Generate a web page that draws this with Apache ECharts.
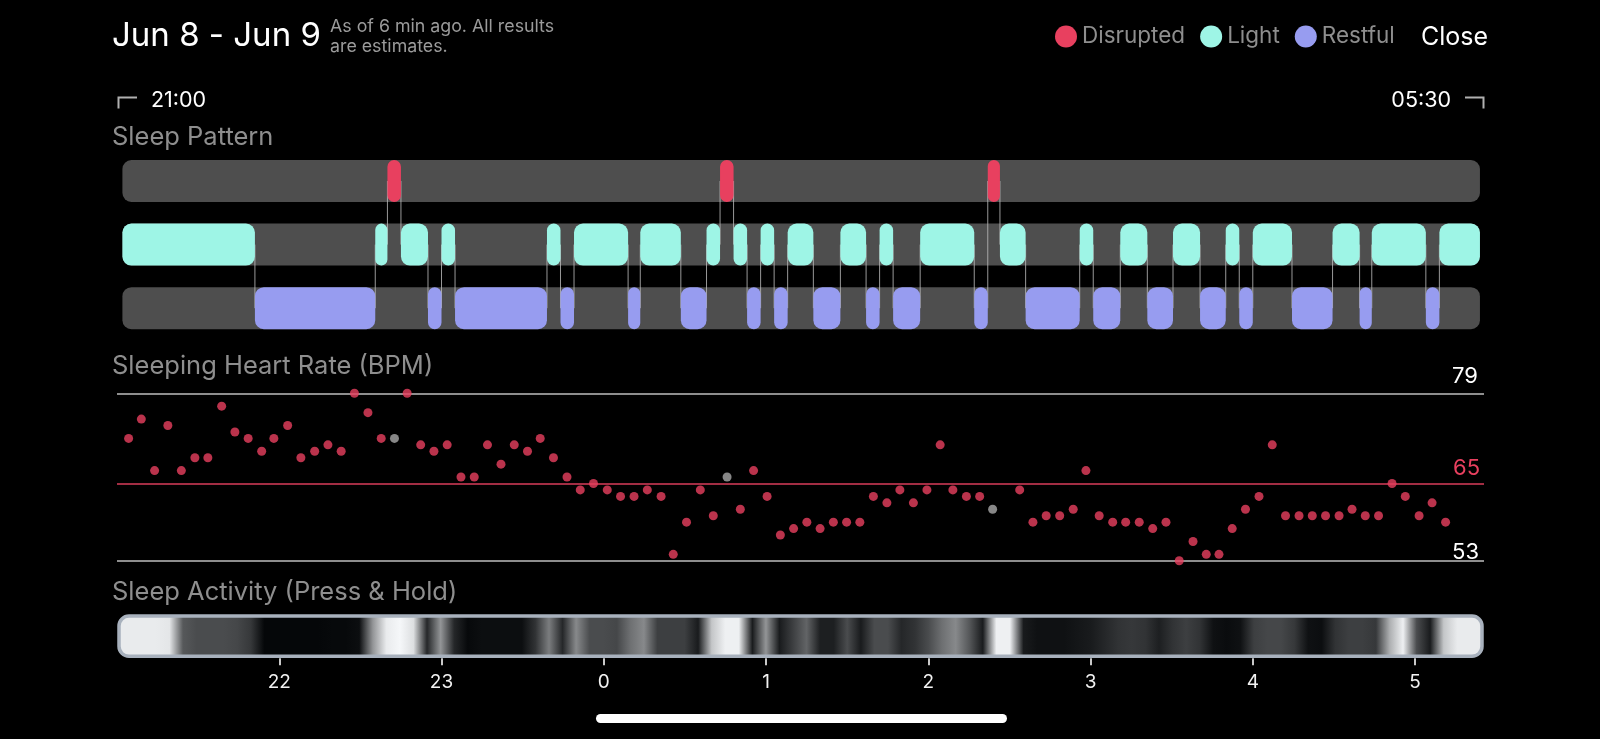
<!DOCTYPE html>
<html>
<head>
<meta charset="utf-8">
<script src="https://cdn.jsdelivr.net/npm/echarts@6/dist/echarts.min.js"></script>
<style>
html,body{margin:0;padding:0;background:#000;}
#chart{width:1600px;height:739px;}
</style>
</head>
<body>
<div id="chart"></div>
<script>
// ================= DATA (minutes after 21:00) =================
const stageNames = ['Disrupted', 'Light', 'Restful'];
const stageColors = ['#e8405f', '#9ef5e6', '#979cf0'];

const disrupted = [[100,105],[223,228],[322,326.5]];
const light = [[2,51],[95.5,100],[105,115],[120,125],[159,164],[169,189],[193.5,208.5],[218,223],[228,233],[238,243],[248,257.5],[267.5,277],[282,287],[297,317],[326.5,336],[356,361],[371,381],[390.5,400.5],[410,415],[420,434.5],[449.5,459.5],[464,484],[489,504]];
const restful = [[51,95.5],[115,120],[125,159],[164,169],[189,193.5],[208.5,218],[233,238],[243,248],[257.5,267.5],[277,282],[287,297],[317,322],[336,356],[361,371],[381,390.5],[400.5,410],[415,420],[434.5,449.5],[459.5,464],[484,489]];

const hrTime = [4.3,9.0,13.9,18.8,23.8,28.8,33.6,38.7,43.6,48.5,53.5,58.0,63.1,68.0,73.1,78.0,82.9,87.8,92.8,97.7,107.3,112.3,117.2,122.1,127.2,132.1,137.0,142.0,146.9,151.8,156.5,161.4,166.4,171.3,176.2,181.3,186.2,191.2,196.1,201.2,205.7,210.6,215.7,220.5,230.5,235.4,240.4,245.3,250.2,255.1,260.0,264.9,269.8,274.7,279.7,284.7,289.5,294.5,299.5,304.4,309.1,314.1,319.0,333.8,338.7,343.6,348.6,353.6,358.3,363.2,368.2,373.0,378.0,383.0,387.9,392.8,397.9,402.8,407.5,412.4,417.3,422.3,427.2,432.1,437.1,442.0,446.9,451.9,456.7,461.6,466.5,471.5,476.4,481.5,486.3,491.3];
const hrBpm = [72,75,67,74,67,69,69,77,73,72,70,72,74,69,70,71,70,79,76,72,79,71,70,71,66,66,71,68,71,70,72,69,66,64,65,64,63,63,64,63,54,59,64,60,61,67,63,57,58,59,58,59,59,59,63,62,64,62,64,71,64,63,63,64,59,60,60,61,67,60,59,59,59,58,59,53,56,54,54,58,61,63,71,60,60,60,60,60,61,60,60,65,63,60,62,59];
const hrGrayTime = [102.6, 225.6, 323.8];
const hrGrayBpm = [72, 66, 61];
const hrRefLines = [79, 65, 53];

// activity level per 5-minute epoch, starting 21:00
const activityStartMin = 0;
const activityStepMin = 5;
const activityLevel = [0.95,0.95,0.95,0.95,0.93,0.35,0.3,0.3,0.3,0.28,
  0.22,0.02,0.02,0.02,0.02,0.02,0.03,0.03,0.05,0.6,
  0.95,1.0,0.9,0.15,0.6,0.15,0.03,0.05,0.05,0.05,
  0.05,0.2,0.5,0.15,0.55,0.3,0.3,0.28,0.45,0.55,
  0.25,0.25,0.25,0.1,0.8,0.97,0.97,0.1,0.6,0.1,
  0.25,0.4,0.12,0.12,0.3,0.1,0.3,0.3,0.15,0.2,
  0.3,0.45,0.55,0.35,0.1,0.97,0.97,0.1,0.06,0.06,
  0.06,0.08,0.1,0.15,0.2,0.22,0.2,0.12,0.2,0.25,
  0.2,0.06,0.04,0.06,0.25,0.28,0.28,0.22,0.06,0.05,
  0.2,0.25,0.25,0.22,0.7,0.97,0.3,0.1,0.8,0.95,0.95,0.95];

const axisStartMin = 0;
const axisEndMin = 505.5;
const hourTicks = [22, 23, 0, 1, 2, 3, 4, 5];
const startLabel = '21:00';
const endLabel = '05:30';

// ================= DERIVED =================
const tickMin = hourTicks.map(h => ((h - 21 + 24) % 24) * 60);
const segs = [];
[disrupted, light, restful].forEach((arr, row) => arr.forEach(s => segs.push({ s: s[0], e: s[1], row })));
segs.sort((a, b) => a.s - b.s);
const transitions = [];
for (let i = 1; i < segs.length; i++) {
  if (Math.abs(segs[i].s - segs[i - 1].e) < 0.01) transitions.push([segs[i].s, segs[i - 1].row, segs[i].row]);
}
const patStart = Math.min(...segs.map(s => s.s));
const patEnd = Math.max(...segs.map(s => s.e));

const FONT = 'Inter, "Noto Sans", sans-serif';
const chart = echarts.init(document.getElementById('chart'), null, { width: 1600, height: 739 });

function rowRect(api, a, b, row) {
  const p1 = api.coord([a, row]);
  const p2 = api.coord([b, row]);
  const h = api.size([0, 1])[1] * 0.66;
  const w = p2[0] - p1[0];
  return { x: p1[0], y: p1[1] - h / 2, width: w, height: h, r: Math.min(9, w / 2) };
}

function segSeries(idx, data) {
  return {
    name: stageNames[idx], type: 'custom', xAxisIndex: 0, yAxisIndex: 0, z: 3,
    itemStyle: { color: stageColors[idx] },
    encode: { x: [0, 1], y: 2 },
    data: data.map(s => [s[0], s[1], idx]),
    renderItem: (params, api) => ({
      type: 'rect',
      shape: rowRect(api, api.value(0), api.value(1), idx),
      style: { fill: stageColors[idx] }
    })
  };
}

const refLabelDist = [6, 4, 5];
const refLabelLineHeight = [22, 22, 6];

const option = {
  backgroundColor: '#000',
  animation: false,
  legend: {
    data: stageNames, left: 1055, top: 25, icon: 'circle', itemWidth: 22, itemHeight: 22, itemGap: 15,
    padding: 0, selectedMode: false,
    textStyle: { color: '#8e8e8e', fontSize: 22.5, fontFamily: FONT }
  },
  grid: [
    { left: 117, right: 116, top: 149.2, height: 190.8 },
    { left: 117, right: 116, top: 393.3, height: 167.5 },
    { left: 117, right: 116, top: 614, height: 44.3 }
  ],
  xAxis: [
    { gridIndex: 0, type: 'value', min: axisStartMin, max: axisEndMin, show: false },
    { gridIndex: 1, type: 'value', min: axisStartMin, max: axisEndMin, show: false },
    { gridIndex: 2, type: 'value', min: axisStartMin, max: axisEndMin,
      axisLine: { show: false }, splitLine: { show: false },
      axisTick: { show: true, customValues: tickMin, length: 7, lineStyle: { color: '#c9c9c9', width: 2 } },
      axisLabel: { show: true, customValues: tickMin, margin: 14, color: '#f2f2f2', fontSize: 19, fontFamily: FONT,
        formatter: v => { const i = tickMin.indexOf(v); return i >= 0 ? String(hourTicks[i]) : ''; } } }
  ],
  yAxis: [
    { gridIndex: 0, type: 'category', data: stageNames, inverse: true, show: false },
    { gridIndex: 1, type: 'value', min: Math.min(...hrRefLines), max: Math.max(...hrRefLines), show: false },
    { gridIndex: 2, type: 'value', min: 0, max: 1, show: false }
  ],
  series: [
    { type: 'custom', xAxisIndex: 0, yAxisIndex: 0, z: 1, silent: true,
      encode: { x: [0, 1], y: 2 },
      data: [0, 1, 2].map(r => [patStart, patEnd, r]),
      renderItem: (params, api) => ({ type: 'rect', shape: Object.assign(rowRect(api, api.value(0), api.value(1), api.value(2)), { r: 9 }), style: { fill: '#4e4e4e' } })
    },
    { type: 'custom', xAxisIndex: 0, yAxisIndex: 0, z: 2, silent: true,
      encode: { x: 0, y: 1 },
      data: transitions,
      renderItem: (params, api) => {
        const t = api.value(0);
        const p1 = api.coord([t, api.value(1)]);
        const p2 = api.coord([t, api.value(2)]);
        return { type: 'line', shape: { x1: p1[0], y1: p1[1], x2: p2[0], y2: p2[1] }, style: { stroke: 'rgba(190,190,190,0.8)', lineWidth: 1 } };
      }
    },
    segSeries(0, disrupted),
    segSeries(1, light),
    segSeries(2, restful),
    { type: 'scatter', xAxisIndex: 1, yAxisIndex: 1, z: 4, clip: false, symbolSize: 9,
      itemStyle: { color: '#e8405f' },
      data: hrTime.map((t, i) => [t, hrBpm[i]]),
      markLine: {
        silent: true, symbol: 'none', animation: false, z: 1,
        label: { show: true, position: 'insideEndTop', formatter: '{c}', fontSize: 22, fontFamily: FONT },
        data: hrRefLines.map((v, i) => ({
          yAxis: v,
          lineStyle: { color: i === 1 ? '#d93c5a' : '#8e8e8e', width: i === 1 ? 1.5 : 2, type: 'solid' },
          label: { color: i === 1 ? '#e8405f' : '#ffffff', distance: refLabelDist[i], lineHeight: refLabelLineHeight[i] }
        }))
      }
    },
    { type: 'scatter', xAxisIndex: 1, yAxisIndex: 1, z: 4, clip: false, symbolSize: 9,
      itemStyle: { color: '#a9a9a9' },
      data: hrGrayTime.map((t, i) => [t, hrGrayBpm[i]])
    },
    { type: 'custom', xAxisIndex: 2, yAxisIndex: 2, z: 2, silent: true,
      data: [[axisStartMin, 0]],
      renderItem: (params, api) => {
        const x0 = api.coord([axisStartMin, 1])[0];
        const x1 = api.coord([axisEndMin, 1])[0];
        const yTop = api.coord([0, 1])[1];
        const yBot = api.coord([0, 0])[1];
        const inset = 2;
        const rx = x0 + inset, rw = x1 - x0 - 2 * inset;
        const ry = yTop + inset, rh = yBot - yTop - 2 * inset;
        const stops = activityLevel.map((lv, k) => {
          const px = api.coord([activityStartMin + k * activityStepMin, 0])[0];
          const off = Math.min(1, Math.max(0, (px - rx) / rw));
          const v = Math.round(lv * 245);
          return { offset: off, color: 'rgb(' + v + ',' + Math.min(255, v + 2) + ',' + Math.min(255, v + 4) + ')' };
        });
        return { type: 'rect', shape: { x: rx, y: ry, width: rw, height: rh, r: 10 },
          style: { fill: new echarts.graphic.LinearGradient(0, 0, 1, 0, stops), stroke: '#a8b1bd', lineWidth: 3.5 } };
      }
    }
  ],
  graphic: [
    { type: 'text', style: { text: 'Jun 8 - Jun 9', x: 112, y: 36, fill: '#ffffff', font: '400 33px ' + FONT, textVerticalAlign: 'middle', verticalAlign: 'middle' } },
    { type: 'text', style: { text: 'As of 6 min ago. All results', x: 330, y: 26.5, fill: '#9b9b9b', font: '400 17.8px ' + FONT, textVerticalAlign: 'middle', verticalAlign: 'middle' } },
    { type: 'text', style: { text: 'are estimates.', x: 330, y: 46.5, fill: '#9b9b9b', font: '400 17.8px ' + FONT, textVerticalAlign: 'middle', verticalAlign: 'middle' } },
    { type: 'text', style: { text: 'Close', x: 1421, y: 37, fill: '#ffffff', font: '400 25px ' + FONT, textVerticalAlign: 'middle', verticalAlign: 'middle' } },
    { type: 'polyline', shape: { points: [[118.5, 108.5], [118.5, 97.5], [137, 97.5]] }, style: { stroke: '#b0b0b0', lineWidth: 2, fill: null } },
    { type: 'text', style: { text: startLabel, x: 151, y: 100.5, fill: '#ffffff', font: '400 21.5px ' + FONT, textVerticalAlign: 'middle', verticalAlign: 'middle' } },
    { type: 'text', style: { text: endLabel, x: 1451, y: 100.5, fill: '#ffffff', font: '400 21.5px ' + FONT, textAlign: 'right', align: 'right', textVerticalAlign: 'middle', verticalAlign: 'middle' } },
    { type: 'polyline', shape: { points: [[1465, 97.5], [1483.5, 97.5], [1483.5, 108.5]] }, style: { stroke: '#b0b0b0', lineWidth: 2, fill: null } },
    { type: 'text', style: { text: 'Sleep Pattern', x: 112, y: 137, fill: '#8e8e8e', font: '400 25.5px ' + FONT, textVerticalAlign: 'middle', verticalAlign: 'middle' } },
    { type: 'text', style: { text: 'Sleeping Heart Rate (BPM)', x: 112, y: 366, fill: '#8e8e8e', font: '400 25.5px ' + FONT, textVerticalAlign: 'middle', verticalAlign: 'middle' } },
    { type: 'text', style: { text: 'Sleep Activity (Press & Hold)', x: 112, y: 592, fill: '#8e8e8e', font: '400 25.5px ' + FONT, textVerticalAlign: 'middle', verticalAlign: 'middle' } },
    { type: 'rect', shape: { x: 596, y: 714, width: 411, height: 9, r: 4.5 }, style: { fill: '#ffffff' } }
  ]
};
chart.setOption(option);
</script>
</body>
</html>
